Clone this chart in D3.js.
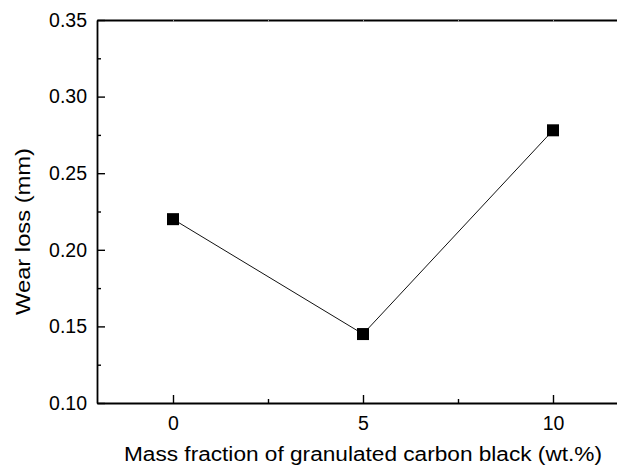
<!DOCTYPE html>
<html>
<head>
<meta charset="utf-8">
<script src="https://cdn.jsdelivr.net/npm/d3@7"></script>
<style>
  body { margin: 0; background: #fff; }
  svg { display: block; font-family: Arial, "Liberation Sans", sans-serif; }
</style>
</head>
<body>
<div id="chart"></div>
<script>
// data
const massFraction = [0, 5, 10];
const wearLoss = [0.22, 0.145, 0.278];
const xMajorTicks = [0, 5, 10];
const xMinorTicks = [2.5, 7.5];
const yMajorTicks = [0.1, 0.15, 0.2, 0.25, 0.3, 0.35];
const yMinorTicks = [0.125, 0.175, 0.225, 0.275, 0.325];

const WIDTH = 617;
const HEIGHT = 466;
const MARGIN = { left: 97, top: 20, bottom: 403 };
const FONT = "Arial, 'Liberation Sans', sans-serif";

const xScale = d3.scaleLinear().domain([-2, 12]).range([MARGIN.left, MARGIN.left + 14 * 38]);
const yScale = d3.scaleLinear().domain([0.1, 0.35]).range([MARGIN.bottom, MARGIN.top]);

const svg = d3.select("#chart")
  .append("svg")
  .attr("width", WIDTH)
  .attr("height", HEIGHT)
  .attr("viewBox", [0, 0, WIDTH, HEIGHT]);

const styleAxis = g => {
  g.attr("font-family", FONT).attr("font-size", 19.5);
  g.select(".domain").attr("stroke", "#000").attr("stroke-width", 1.8);
  g.selectAll(".tick line").attr("stroke", "#000").attr("stroke-width", 1.4);
  g.selectAll(".tick text").attr("fill", "#000");
};

// left axis
svg.append("g")
  .attr("transform", `translate(${MARGIN.left},0)`)
  .call(d3.axisLeft(yScale).tickValues(yMajorTicks).tickFormat(d3.format(".2f"))
    .tickSize(-8).tickPadding(10).tickSizeOuter(0))
  .call(styleAxis);
svg.append("g")
  .attr("transform", `translate(${MARGIN.left},0)`)
  .call(d3.axisLeft(yScale).tickValues(yMinorTicks).tickFormat("").tickSize(-4))
  .call(styleAxis)
  .call(g => g.select(".domain").remove());

// bottom axis
svg.append("g")
  .attr("transform", `translate(0,${MARGIN.bottom})`)
  .call(d3.axisBottom(xScale).tickValues(xMajorTicks).tickFormat(d3.format("d"))
    .tickSize(-8).tickPadding(13).tickSizeOuter(0))
  .call(styleAxis);
svg.append("g")
  .attr("transform", `translate(0,${MARGIN.bottom})`)
  .call(d3.axisBottom(xScale).tickValues(xMinorTicks).tickFormat("").tickSize(-4))
  .call(styleAxis)
  .call(g => g.select(".domain").remove());

// top axis, only faint tick stubs
svg.append("g")
  .attr("transform", `translate(0,${MARGIN.top})`)
  .call(d3.axisTop(xScale).tickValues(xMajorTicks.concat(xMinorTicks)).tickFormat("")
    .tickSize(-2).tickSizeOuter(0))
  .call(styleAxis)
  .call(g => g.selectAll(".tick line").attr("stroke", "#999").attr("stroke-width", 1));

// line
const line = d3.line()
  .x((d, i) => xScale(massFraction[i]))
  .y(d => yScale(d));

svg.append("path")
  .datum(wearLoss)
  .attr("fill", "none")
  .attr("stroke", "#111")
  .attr("stroke-width", 1)
  .attr("d", line);

// square markers
const S = 12;
svg.append("g")
  .selectAll("rect")
  .data(wearLoss)
  .join("rect")
  .attr("x", (d, i) => xScale(massFraction[i]) - S / 2)
  .attr("y", d => yScale(d) - S / 2)
  .attr("width", S)
  .attr("height", S)
  .attr("fill", "#000");

// axis titles
svg.append("text")
  .attr("x", xScale(5))
  .attr("y", 461)
  .attr("text-anchor", "middle")
  .attr("font-family", FONT)
  .attr("font-size", 20)
  .attr("textLength", 478)
  .attr("lengthAdjust", "spacingAndGlyphs")
  .text("Mass fraction of granulated carbon black (wt.%)");

svg.append("text")
  .attr("transform", `translate(30,${231.5}) rotate(-90)`)
  .attr("text-anchor", "middle")
  .attr("font-family", FONT)
  .attr("font-size", 20)
  .attr("textLength", 167)
  .attr("lengthAdjust", "spacingAndGlyphs")
  .text("Wear loss (mm)");
</script>
</body>
</html>
